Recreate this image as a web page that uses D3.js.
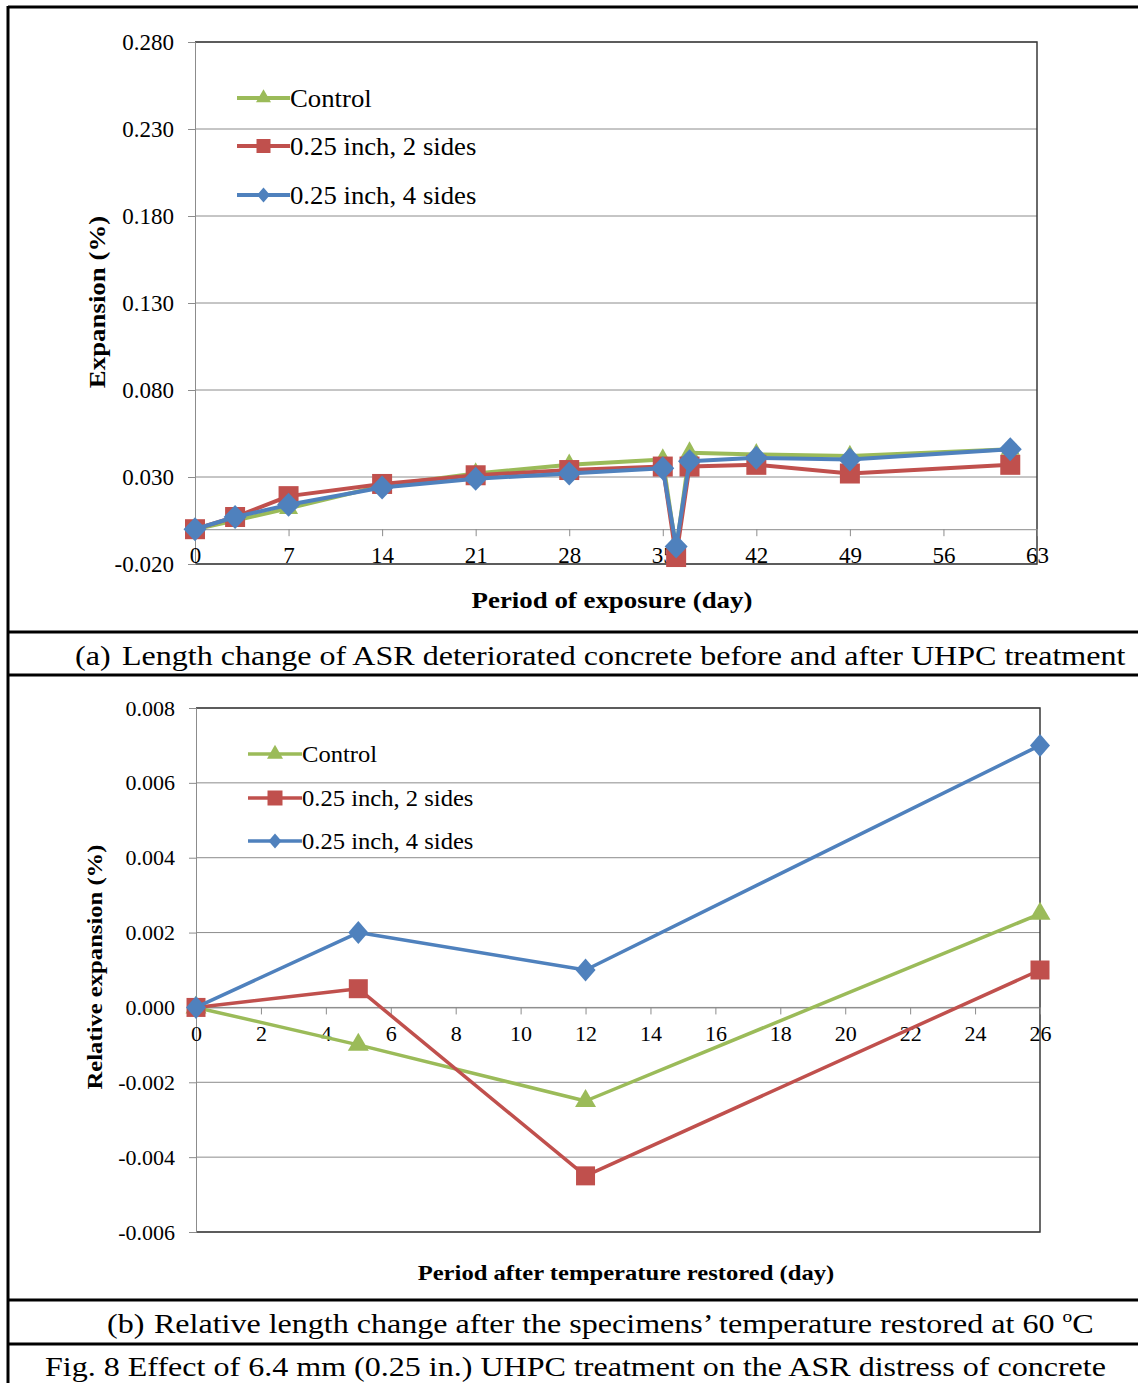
<!DOCTYPE html>
<html>
<head>
<meta charset="utf-8">
<script src="https://cdn.jsdelivr.net/npm/d3@7"></script>
<style>
  html, body { margin: 0; padding: 0; background: #fff; }
  svg { display: block; font-family: "Liberation Serif", "Times New Roman", serif; }
</style>
</head>
<body>
<svg id="fig" width="1138" height="1383"></svg>
<script>
// Series names and colours
const seriesNames = ["Control", "0.25 inch, 2 sides", "0.25 inch, 4 sides"];
const seriesColors = ["#9BBB59", "#C0504D", "#4F81BD"];
const seriesMarkers = ["triangle", "square", "diamond"];

// (a) Expansion (%) versus period of exposure (day)
const daysA = [0, 3, 7, 14, 21, 28, 35, 36, 37, 42, 49, 61];
const controlA = [0.000, 0.005, 0.012, 0.025, 0.032, 0.037, 0.040, -0.012, 0.044, 0.043, 0.042, 0.046];
const twoSidesA = [0.000, 0.007, 0.019, 0.026, 0.031, 0.034, 0.036, -0.016, 0.036, 0.037, 0.032, 0.037];
const fourSidesA = [0.000, 0.007, 0.014, 0.024, 0.029, 0.032, 0.035, -0.010, 0.039, 0.041, 0.040, 0.046];
const yTicksA = [-0.020, 0.030, 0.080, 0.130, 0.180, 0.230, 0.280];
const xTicksA = [0, 7, 14, 21, 28, 35, 42, 49, 56, 63];

// (b) Relative expansion (%) versus period after temperature restored (day)
const daysB = [0, 5, 12, 26];
const controlB = [0.0000, -0.0010, -0.0025, 0.0025];
const twoSidesB = [0.0000, 0.0005, -0.0045, 0.0010];
const fourSidesB = [0.0000, 0.0020, 0.0010, 0.0070];
const yTicksB = [-0.006, -0.004, -0.002, 0.000, 0.002, 0.004, 0.006, 0.008];
const xTicksB = [0, 2, 4, 6, 8, 10, 12, 14, 16, 18, 20, 22, 24, 26];

const svg = d3.select("#fig");
const fmt = v => d3.format(".3f")(v).replace("\u2212", "-");

// Marker outlines: [width, height] in px, centred on the point
function markerPath(kind, w, h) {
  const a = w / 2, b = h / 2;
  if (kind === "triangle") return `M0,${-h * 2 / 3}L${a},${h / 3}L${-a},${h / 3}Z`;
  if (kind === "square") return `M${-a},${-b}H${a}V${b}H${-a}Z`;
  return `M0,${-b}L${a},0L0,${b}L${-a},0Z`;
}

// Widen a text element horizontally about its anchor
function stretch(sel, k, ax, ay) {
  sel.attr("transform", `translate(${ax},${ay}) scale(${k},1) translate(${-ax},${-ay})`);
}

function drawChart(cfg) {
  const g = svg.append("g");
  const x = d3.scaleLinear().domain(cfg.xDomain).range([cfg.left, cfg.right]);
  const y = d3.scaleLinear().domain(cfg.yDomain).range([cfg.bottom, cfg.top]);

  // horizontal gridlines
  g.append("g").selectAll("line").data(cfg.yTicks).join("line")
    .attr("x1", cfg.left).attr("x2", cfg.right)
    .attr("y1", d => y(d)).attr("y2", d => y(d))
    .attr("stroke", "#8c8c8c").attr("stroke-width", 1);

  // plot area frame (top, right, bottom)
  g.append("path")
    .attr("d", `M${cfg.left},${cfg.top}H${cfg.right}V${cfg.bottom}H${cfg.left}`)
    .attr("fill", "none").attr("stroke", "#3a3a3a").attr("stroke-width", 1.5);

  // value axis
  const yAxis = d3.axisLeft(y).tickValues(cfg.yTicks).tickFormat(fmt).tickSize(7).tickPadding(14);
  const ya = g.append("g").attr("transform", `translate(${cfg.left},0)`).call(yAxis);
  ya.select(".domain").attr("stroke", "#8c8c8c");
  ya.selectAll(".tick line").attr("stroke", "#8c8c8c");
  ya.selectAll(".tick text").attr("font-family", "Liberation Serif").attr("font-size", cfg.tickFont).attr("fill", "#000");

  // category axis crossing at zero
  const xAxis = d3.axisBottom(x).tickValues(cfg.xTicks).tickFormat(d3.format("d")).tickSizeInner(7).tickSizeOuter(0).tickPadding(cfg.xPad);
  const xa = g.append("g").attr("transform", `translate(0,${y(0)})`).call(xAxis);
  xa.select(".domain").attr("stroke", "#8c8c8c");
  xa.selectAll(".tick line").attr("stroke", "#8c8c8c");
  xa.selectAll(".tick text").attr("font-family", "Liberation Serif").attr("font-size", cfg.tickFont).attr("fill", "#000");

  // series lines and markers
  const line = d3.line().x(d => x(d[0])).y(d => y(d[1]));
  cfg.series.forEach((vals, i) => {
    const pts = cfg.xs.map((d, j) => [d, vals[j]]);
    g.append("path").datum(pts).attr("d", line)
      .attr("fill", "none").attr("stroke", seriesColors[i])
      .attr("stroke-width", cfg.lineWidth).attr("stroke-linejoin", "round");
    const m = cfg.markers[i];
    g.append("g").selectAll("path").data(pts).join("path")
      .attr("d", markerPath(seriesMarkers[i], m[0], m[1]))
      .attr("transform", d => `translate(${x(d[0])},${y(d[1])})`)
      .attr("fill", seriesColors[i]);
  });

  // legend
  seriesNames.forEach((name, i) => {
    const ly = cfg.legend.y[i];
    g.append("line").attr("x1", cfg.legend.x0).attr("x2", cfg.legend.x1)
      .attr("y1", ly).attr("y2", ly)
      .attr("stroke", seriesColors[i]).attr("stroke-width", cfg.lineWidth);
    const m = cfg.legend.markers[i];
    g.append("path").attr("d", markerPath(seriesMarkers[i], m[0], m[1]))
      .attr("transform", `translate(${(cfg.legend.x0 + cfg.legend.x1) / 2},${ly})`)
      .attr("fill", seriesColors[i]);
    const t = g.append("text").attr("x", cfg.legend.x1).attr("y", ly).attr("dy", "0.35em")
      .attr("font-size", cfg.legend.font).text(name);
    stretch(t, cfg.legend.k, cfg.legend.x1, ly);
  });

  // axis titles
  const cx = (cfg.left + cfg.right) / 2 + cfg.xTitleShift;
  const xt = g.append("text").attr("x", cx).attr("y", cfg.xTitleY)
    .attr("text-anchor", "middle").attr("font-weight", "bold").attr("font-size", cfg.titleFont)
    .text(cfg.xTitle);
  stretch(xt, cfg.titleK, cx, cfg.xTitleY);
  g.append("text").attr("transform", `translate(${cfg.yTitleX},${cfg.yTitleY}) rotate(-90) scale(${cfg.titleK},1)`)
    .attr("text-anchor", "middle").attr("font-weight", "bold").attr("font-size", cfg.titleFont)
    .text(cfg.yTitle);
}

drawChart({
  xDomain: [0, 63], yDomain: [-0.020, 0.280],
  left: 195, right: 1037, top: 42, bottom: 564,
  xs: daysA, series: [controlA, twoSidesA, fourSidesA],
  yTicks: yTicksA, xTicks: xTicksA,
  tickFont: 23, xPad: 10, lineWidth: 4,
  markers: [[19, 17], [20, 20], [23, 24]],
  legend: { x0: 237, x1: 290, y: [98, 146, 195], font: 25, k: 1.07, markers: [[15, 13], [14, 14], [13, 15]] },
  xTitle: "Period of exposure (day)", xTitleY: 608, xTitleShift: -4,
  yTitle: "Expansion (%)", yTitleX: 105, yTitleY: 302,
  titleFont: 24, titleK: 1.12
});

drawChart({
  xDomain: [0, 26], yDomain: [-0.006, 0.008],
  left: 196, right: 1040, top: 708, bottom: 1232,
  xs: daysB, series: [controlB, twoSidesB, fourSidesB],
  yTicks: yTicksB, xTicks: xTicksB,
  tickFont: 22, xPad: 11, lineWidth: 3.5,
  markers: [[21, 18], [19, 19], [20, 23]],
  legend: { x0: 248, x1: 302, y: [754, 798, 841], font: 23, k: 1.07, markers: [[16, 14], [15, 15], [13, 15]] },
  xTitle: "Period after temperature restored (day)", xTitleY: 1280, xTitleShift: 8,
  yTitle: "Relative expansion (%)", yTitleX: 102, yTitleY: 967,
  titleFont: 22, titleK: 1.12
});

// figure frame
const frame = svg.append("g").attr("stroke", "#000").attr("stroke-width", 3);
frame.append("line").attr("x1", 8).attr("x2", 1138).attr("y1", 7).attr("y2", 7);
frame.append("line").attr("x1", 8).attr("x2", 8).attr("y1", 6).attr("y2", 1383);
[632, 675, 1300, 1344].forEach(yy => {
  frame.append("line").attr("x1", 8).attr("x2", 1138).attr("y1", yy).attr("y2", yy);
});

// captions
const capK = 1.145;
const capA = svg.append("text").attr("y", 665).attr("font-size", 28);
capA.append("tspan").attr("x", 75).text("(a)");
capA.append("tspan").attr("x", 116).text("Length change of ASR deteriorated concrete before and after UHPC treatment");
stretch(capA, capK, 75, 665);

const capB = svg.append("text").attr("y", 1333).attr("font-size", 28);
capB.append("tspan").attr("x", 107).text("(b)");
capB.append("tspan").attr("x", 148).text("Relative length change after the specimens\u2019 temperature restored at 60 ");
capB.append("tspan").attr("font-size", 17).attr("dy", -11).text("o");
capB.append("tspan").attr("dy", 11).text("C");
stretch(capB, capK, 107, 1333);

const capF = svg.append("text").attr("x", 45).attr("y", 1376).attr("font-size", 28)
  .text("Fig. 8 Effect of 6.4 mm (0.25 in.) UHPC treatment on the ASR distress of concrete");
stretch(capF, capK, 45, 1376);
</script>
</body>
</html>
